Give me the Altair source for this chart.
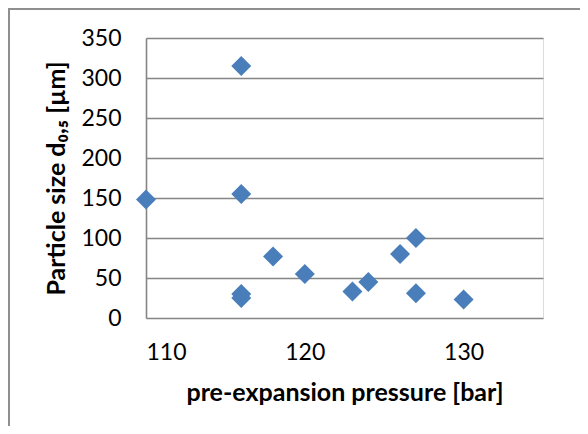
import altair as alt
import pandas as pd

pressure = [110, 116, 116, 116, 116, 118, 120, 123, 124, 126, 127, 127, 130]
particle = [148, 315, 155, 30, 25, 77, 55, 33, 45, 80, 100, 31, 23]
x_ticks = [110, 120, 130]
y_ticks = [0, 50, 100, 150, 200, 250, 300, 350]

df = pd.DataFrame({"p": pressure, "d": particle})

W, H = 397, 280
PL, PT, PR, PB = 138, 30, 37, 108
GRID = "#858585"
FONT = "Lato"

points = alt.Chart(df).mark_point(
    shape="diamond", filled=True, size=400, color="#4A7EBB", opacity=1
).encode(
    x=alt.X("p:Q", scale=alt.Scale(domain=[110, 135], nice=False, zero=False),
            axis=alt.Axis(values=x_ticks, grid=False, domain=False, ticks=False,
                          labelPadding=23, labelFontSize=23, labelFont=FONT,
                          labelColor="#000000",
                          title="pre-expansion pressure [bar]", titleFont=FONT,
                          titleFontSize=25, titleFontWeight="bold", titleColor="#000000",
                          titlePadding=16)),
    y=alt.Y("d:Q", scale=alt.Scale(domain=[0, 350], nice=False),
            axis=alt.Axis(values=y_ticks, grid=True, gridColor=GRID, gridWidth=1.6,
                          domain=True, domainColor=GRID, domainWidth=1.6, ticks=False,
                          labelPadding=25, labelFontSize=23, labelFont=FONT,
                          labelColor="#000000",
                          title="Particle size d₀,₅ [µm]", titleFont=FONT,
                          titleFontSize=25, titleFontWeight="bold", titleColor="#000000",
                          titlePadding=11)),
)

one = alt.Data(values=[{"a": 1}])
left_border = alt.Chart(one).mark_rule(color="#8f8f8f", strokeWidth=2).encode(
    x=alt.value(-137), y=alt.value(-29), y2=alt.value(H + PB)
)
top_border = alt.Chart(one).mark_rule(color="#8f8f8f", strokeWidth=2).encode(
    x=alt.value(-138), x2=alt.value(W + PR), y=alt.value(-29)
)

chart = alt.layer(points, left_border, top_border).properties(
    width=W, height=H,
    autosize=alt.AutoSizeParams(type="none"),
    padding={"left": PL, "top": PT, "right": PR, "bottom": PB},
).configure_view(stroke=None).configure(background="white")

chart.save("out.html", embed_options={"renderer": "svg", "actions": False})
